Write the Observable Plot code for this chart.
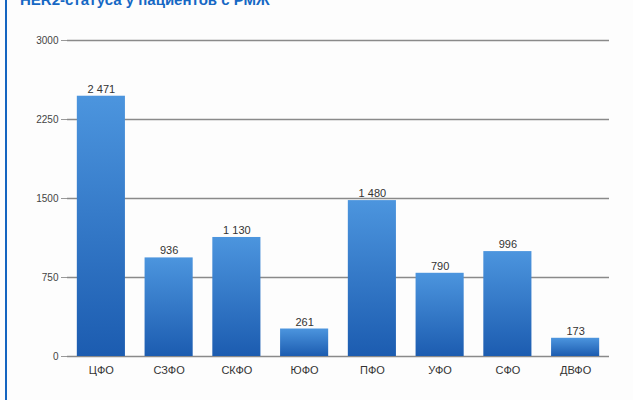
<!DOCTYPE html>
<html>
<head>
<meta charset="utf-8">
<script src="https://cdn.jsdelivr.net/npm/d3@7"></script>
<script src="https://cdn.jsdelivr.net/npm/@observablehq/plot@0.6"></script>
<style>
  html, body { margin: 0; padding: 0; background: #fdfdfd; }
  #wrap { position: relative; width: 633px; height: 400px; overflow: hidden; font-family: "Liberation Sans", Arial, sans-serif; }
  #bar { position: absolute; left: 5px; top: 0; width: 2px; height: 400px; background: #1565c0; }
  #title { position: absolute; left: 20px; top: -9px; font-size: 15px; font-weight: bold; color: #1668c4; white-space: nowrap; }
  #chart { position: absolute; left: 0; top: 0; }
</style>
</head>
<body>
<div id="wrap">
  <div id="bar"></div>
  <div id="title">HER2-статуса у пациентов с РМЖ</div>
  <div id="chart"></div>
</div>
<script>
// Federal districts and counts
const districts = ["ЦФО", "СЗФО", "СКФО", "ЮФО", "ПФО", "УФО", "СФО", "ДВФО"];
const counts = [2471, 936, 1130, 261, 1480, 790, 996, 173];
const yTicks = [0, 750, 1500, 2250, 3000];

const data = districts.map((d, i) => ({district: d, count: counts[i]}));
const ru = d3.formatLocale({decimal: ",", thousands: "\u00a0", grouping: [3], currency: ["", ""]});
const fmt = ru.format(",d");

// Gradient definition for the bars
function gradientDefs() {
  const ns = "http://www.w3.org/2000/svg";
  const defs = document.createElementNS(ns, "defs");
  const g = document.createElementNS(ns, "linearGradient");
  g.setAttribute("id", "barGrad");
  g.setAttribute("x1", "0"); g.setAttribute("y1", "0");
  g.setAttribute("x2", "0"); g.setAttribute("y2", "1");
  [["0%", "#4c95de"], ["100%", "#1c5cb0"]].forEach(([o, c]) => {
    const s = document.createElementNS(ns, "stop");
    s.setAttribute("offset", o); s.setAttribute("stop-color", c);
    g.appendChild(s);
  });
  defs.appendChild(g);
  return defs;
}

const chart = Plot.plot({
  width: 633,
  height: 400,
  marginLeft: 67,
  marginRight: 24,
  marginTop: 40,
  marginBottom: 44,
  style: {fontFamily: "Liberation Sans, Arial, sans-serif", background: "transparent"},
  x: {domain: districts, paddingInner: 0.29, paddingOuter: 0.145, round: false, label: null},
  y: {domain: [0, 3000], label: null},
  marks: [
    gradientDefs,
    Plot.ruleY(yTicks, {stroke: "#8a8a8a", strokeWidth: 1.5}),
    Plot.axisY({ticks: yTicks, tickFormat: d => String(d), tickSize: 6, tickPadding: 3, stroke: "#999", fontSize: 10, color: "#444", label: null}),
    Plot.axisX({tickSize: 0, tickPadding: 10, fontSize: 11, color: "#333", label: null}),
    Plot.barY(data, {x: "district", y: "count", fill: "url(#barGrad)"}),
    Plot.text(data, {x: "district", y: "count", text: d => fmt(d.count), dy: -7, fontSize: 11, fill: "#333"})
  ]
});
document.getElementById("chart").appendChild(chart);
</script>
</body>
</html>
